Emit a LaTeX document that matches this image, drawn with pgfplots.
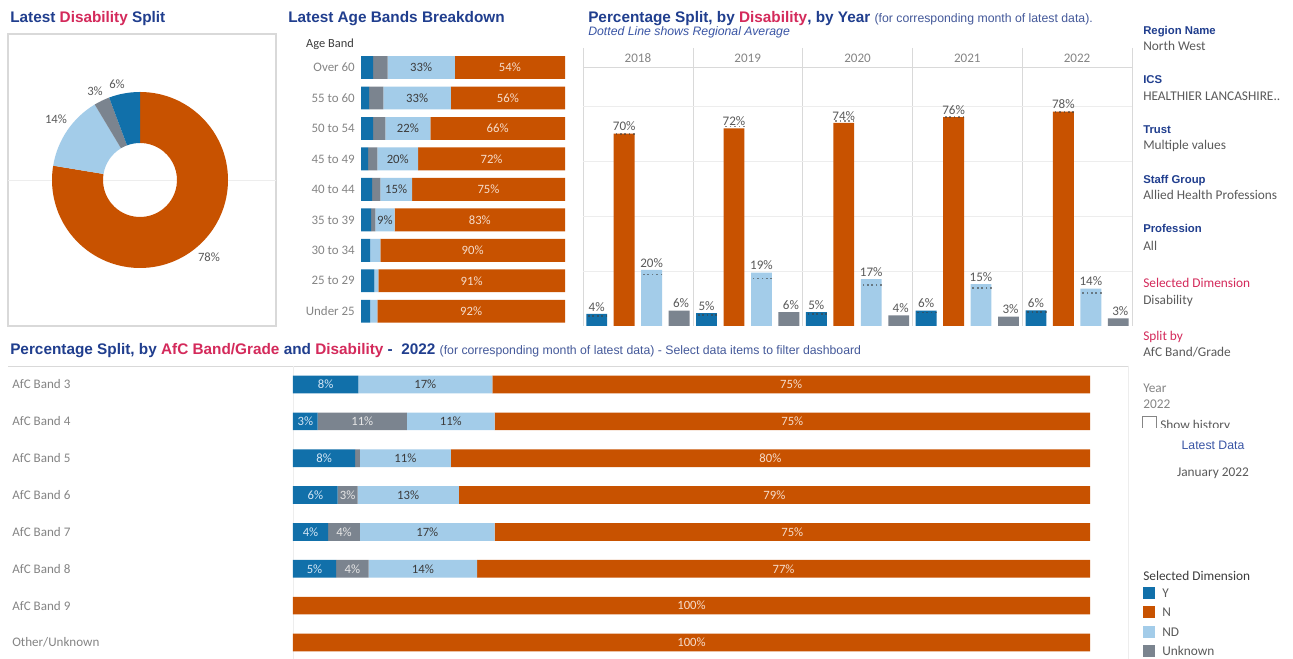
\documentclass[border=0pt]{standalone}
\usepackage{pgfplots}
\pgfplotsset{compat=1.18}
\usepackage{pgfplotstable}
\usepackage{fontspec}
\setmainfont{Carlito}
\newfontfamily\arial{Liberation Sans}
\newcommand\fs[1]{\fontsize{#1}{#1}\selectfont}
\definecolor{cY}{HTML}{1170AA}
\definecolor{cN}{HTML}{C85200}
\definecolor{cND}{HTML}{A3CCE9}
\definecolor{cU}{HTML}{7B848F}
\definecolor{tblue}{HTML}{203E8E}
\definecolor{tred}{HTML}{D42A5B}
\definecolor{sblue}{HTML}{3A55A5}
\definecolor{ptxt}{HTML}{44599A}
\definecolor{labgray}{HTML}{858585}
\definecolor{txtgray}{HTML}{5A5A5A}
\definecolor{darktxt}{HTML}{3C3C3C}
\definecolor{linegray}{HTML}{D9D9D9}
\definecolor{gridgray}{HTML}{EDEDED}
\definecolor{ntxt}{HTML}{F6DCCB}
\definecolor{ytxt}{HTML}{D4E6F5}
\definecolor{utxt}{HTML}{E6E6E6}
\pgfplotsset{/pgf/number format/assume math mode=true}

% ---------------- data ----------------
\pgfplotstableread{
row Y U ND N lND lN
0 6 7 33 54 33 54
1 4 7 33 56 33 56
2 6 6 22 66 22 66
3 3.5 4.5 20 72 20 72
4 5.5 4 15.5 75 15 75
5 5 2 9.5 83.5 9 83
6 4.5 0 5 90.5 0 90
7 6.5 0 2 91.5 0 91
8 4.5 0 3.5 92 0 92
}\agetab

\pgfplotstableread{
row Y U ND N lY lU lND lN
0 8.2 0 16.8 75 8 0 17 75
1 3.1 11.2 11 74.7 3 11 11 75
2 7.8 0.6 11.4 80.2 8 0 11 80
3 5.6 2.5 12.7 79.2 6 3 13 79
4 4.4 4 16.9 74.7 4 4 17 75
5 5.4 4.1 13.6 76.9 5 4 14 77
6 0 0 0 100 0 0 0 100
7 0 0 0 100 0 0 0 100
}\afctab

\pgfplotstableread{
x y lab reg
0.5 4.4 4 3.6
4.5 4.7 5 4.1
8.5 5.0 5 4.3
12.5 5.6 6 4.9
16.5 5.7 6 5.0
}\yrY
\pgfplotstableread{
x y lab reg
1.5 70.0 70 69.8
5.5 71.9 72 72.6
9.5 73.9 74 74.6
13.5 76.0 76 76.1
17.5 78.0 78 77.9
}\yrN
\pgfplotstableread{
x y lab reg
2.5 20.4 20 18.7
6.5 19.4 19 17.3
10.5 17.0 17 14.8
14.5 15.2 15 13.8
18.5 13.6 14 12.1
}\yrND
\pgfplotstableread{
x y lab reg
3.5 5.6 6 8.6
7.5 5.0 6 8.2
11.5 3.9 4 7.6
15.5 3.4 3 7.2
19.5 2.8 3 6.5
}\yrU

% donut slice: colour, from %, to %
\newcommand\slice[3]{%
  \fill[#1] (axis cs:0,0) ++({90-3.6*#2}:66pt)
    arc[start angle={90-3.6*#2}, end angle={90-3.6*#3}, radius=66pt]
    -- ++({270-3.6*#3}:38.25pt)
    arc[start angle={90-3.6*#3}, end angle={90-3.6*#2}, radius=27.75pt] -- cycle;}

\pgfplotsset{
  agegeom/.style={at={(270.75pt,455.05pt)}, anchor=north west, width=153pt, height=205.7pt,
    scale only axis, xmin=0, xmax=100, ymin=-0.5, ymax=8.5, y dir=reverse, clip=false},
  afcgeom/.style={at={(219.75pt,219.70pt)}, anchor=north west, width=597.75pt, height=221.16pt,
    scale only axis, xmin=0, xmax=100, ymin=-0.5, ymax=7.5, y dir=reverse, clip=false},
  pct/.style={nodes near coords={\pgfmathprintnumber[fixed,precision=0]{\pgfplotspointmeta}\%},
    point meta=explicit,
    every node near coord/.append style={anchor=center, font=\fs{9.5pt}, inner sep=0.5pt, text=#1}},
}

\begin{document}
\begin{tikzpicture}
\path[use as bounding box, fill=white] (0pt,0pt) rectangle (969.75pt,494.25pt);

\begin{scope}[x=0.75pt,y=-0.75pt,shift={(0pt,494.25pt)}]
  % panel frames and separators
  \draw[linegray, line width=0.8pt] (8,34) rectangle (276,326);
  \draw[gridgray] (8,180) -- (276,180);
  \foreach \i in {0,...,5} \draw[linegray] ({583+109.8*\i},48) -- ({583+109.8*\i},326);
  \draw[linegray] (583,67.5) -- (1132,67.5);
  \draw[linegray] (8,366) -- (1128,366);
  \draw[gridgray] (293,366) -- (293,659);
  \draw[gridgray] (1128,366) -- (1128,659);

  % titles
  \node[anchor=base west, inner sep=0pt, text=tblue, font=\arial\bfseries\fs{11.5pt}] at (10,22.5)
    {Latest \textcolor{tred}{Disability} Split};
  \node[anchor=base west, inner sep=0pt, text=tblue, font=\arial\bfseries\fs{11.5pt}] at (288,22.5)
    {Latest Age Bands Breakdown};
  \node[anchor=base west, inner sep=0pt, text=tblue, font=\arial\bfseries\fs{11.5pt}] at (588,22.5)
    {Percentage Split, by \textcolor{tred}{Disability}, by Year {\mdseries\fs{9.2pt}\color{ptxt}(for corresponding month of latest data).}};
  \node[anchor=base west, inner sep=0pt, text=sblue, font=\arial\itshape\fs{9.2pt}] at (588,36)
    {Dotted Line shows Regional Average};
  \node[anchor=base west, inner sep=0pt, text=tblue, font=\arial\bfseries\fs{11.5pt}] at (10,354.5)
    {Percentage Split, by \textcolor{tred}{AfC Band/Grade} and \textcolor{tred}{Disability} -\ \ 2022 {\mdseries\fs{9.2pt}\color{ptxt}(for corresponding month of latest data) - Select data items to filter dashboard}};

  % donut labels
  \node[font=\fs{9.5pt}, text=txtgray] at (209,257) {78\%};
  \node[font=\fs{9.5pt}, text=txtgray] at (56,119) {14\%};
  \node[font=\fs{9.5pt}, text=txtgray] at (95,91) {3\%};
  \node[font=\fs{9.5pt}, text=txtgray] at (117,84) {6\%};

  \node[anchor=base, inner sep=0pt, font=\fs{9.3pt}, text=darktxt] at (330,48) {Age Band};

  % right-hand filter panel
  \foreach \yy/\tt in {35/Region Name, 84/ICS, 134/Trust, 184/Staff Group, 233/Profession}
    \node[anchor=base west, inner sep=0pt, font=\arial\bfseries\fs{8.5pt}, text=tblue] at (1143,\yy) {\tt};
  \foreach \yy/\tt in {50.3/North West, 100.3/HEALTHIER LANCASHIRE.., 149.3/Multiple values,
      199.3/Allied Health Professions, 250.3/All, 304.3/Disability, 356.3/{AfC Band/Grade}}
    \node[anchor=base west, inner sep=0pt, font=\fs{10pt}, text=txtgray] at (1143,\yy) {\tt};
  \node[anchor=base west, inner sep=0pt, font=\fs{10pt}, text=tred] at (1143,287.3) {Selected Dimension};
  \node[anchor=base west, inner sep=0pt, font=\fs{10pt}, text=tred] at (1143,340.3) {Split by};
  \node[anchor=base west, inner sep=0pt, font=\fs{10pt}, text=labgray] at (1143,392.3) {Year};
  \node[anchor=base west, inner sep=0pt, font=\fs{10pt}, text=labgray] at (1143,408.3) {2022};
  \begin{scope}
    \clip (1135,410) rectangle (1293,427.5);
    \draw[labgray, line width=0.7pt] (1142,416) rectangle (1156,432);
    \node[anchor=base west, inner sep=0pt, font=\fs{10pt}, text=txtgray] at (1160,429.5) {Show history};
  \end{scope}
  \node[anchor=base, inner sep=0pt, font=\arial\fs{9.2pt}, text=sblue] at (1213,450) {Latest Data};
  \node[anchor=base, inner sep=0pt, font=\fs{10pt}, text=txtgray] at (1213,476.3) {January 2022};

  % legend
  \node[anchor=base west, inner sep=0pt, font=\fs{10pt}, text=darktxt] at (1143,581) {Selected Dimension};
  \foreach \yy/\cc/\tt in {593/cY/Y, 612/cN/N, 632/cND/ND, 651/cU/Unknown}{
    \fill[\cc] (1143,\yy-6) rectangle (1155,\yy+6);
    \node[anchor=base west, inner sep=0pt, font=\fs{10pt}, text=txtgray] at (1162,\yy+4.3) {\tt};
  }
\end{scope}

% ---------------- donut ----------------
\begin{axis}[at={(105pt,359.25pt)}, anchor=center, width=132pt, height=132pt, scale only axis,
  hide axis, xmin=-1, xmax=1, ymin=-1, ymax=1, clip=false]
  \slice{cN}{0}{77.6}
  \slice{cND}{77.6}{91.4}
  \slice{cU}{91.4}{94.3}
  \slice{cY}{94.3}{100}
\end{axis}

% ---------------- age bands ----------------
\begin{axis}[agegeom, xbar stacked, bar width=0.75,
  axis line style={draw=none}, major tick length=0pt, xtick=\empty,
  ytick={0,...,8},
  yticklabels={Over 60,55 to 60,50 to 54,45 to 49,40 to 44,35 to 39,30 to 34,25 to 29,Under 25},
  yticklabel style={anchor=east, inner sep=0pt, xshift=-4.5pt, font=\fs{9.7pt}, text=labgray}]
  \addplot[fill=cY, draw=none] table[x=Y, y=row] {\agetab};
  \addplot[fill=cU, draw=none] table[x=U, y=row] {\agetab};
  \addplot[fill=cND, draw=none] table[x=ND, y=row] {\agetab};
  \addplot[fill=cN, draw=none] table[x=N, y=row] {\agetab};
\end{axis}
\begin{axis}[agegeom, hide axis]
  \addplot[draw=none, pct=darktxt, skip coords between index={6}{9}]
    table[x expr=\thisrow{Y}+\thisrow{U}+0.5*\thisrow{ND}, y=row, meta=lND] {\agetab};
  \addplot[draw=none, pct=ntxt]
    table[x expr=100-0.5*\thisrow{N}, y=row, meta=lN] {\agetab};
\end{axis}

% ---------------- by year ----------------
\begin{axis}[at={(437.25pt,249.75pt)}, anchor=south west, width=411.75pt, height=194.25pt,
  scale only axis, xmin=0, xmax=20, ymin=0, ymax=94.2, clip=false,
  axis line style={draw=none}, major tick length=0pt,
  xtick={2,6,10,14,18}, xticklabels={2018,2019,2020,2021,2022}, xticklabel pos=upper,
  xticklabel style={anchor=base, inner sep=0pt, yshift=3pt, font=\fs{9.8pt}, text=labgray},
  ytick={20,40,60,80}, yticklabels={}, ymajorgrids, grid style={gridgray, line width=0.5pt},
  yrbar/.style={ybar, bar width=0.76, draw=none, fill=#1},
  yrlab/.style={nodes near coords={\pgfmathprintnumber[fixed,precision=0]{\pgfplotspointmeta}\%},
    point meta=explicit,
    every node near coord/.append style={anchor=south, font=\fs{9.8pt}, inner sep=1.8pt, text=txtgray}},
  reg/.style={only marks, mark=-, mark size=8pt,
    mark options={line width=1.3pt, dash pattern=on 1.3pt off 2pt, draw=black!75, opacity=0.6}}]
  \addplot[yrbar=cY, yrlab] table[x=x, y=y, meta=lab] {\yrY};
  \addplot[yrbar=cN, yrlab] table[x=x, y=y, meta=lab] {\yrN};
  \addplot[yrbar=cND, yrlab] table[x=x, y=y, meta=lab] {\yrND};
  \addplot[reg] table[x=x, y=reg] {\yrY};
  \addplot[reg] table[x=x, y=reg] {\yrN};
  \addplot[reg] table[x=x, y=reg] {\yrND};
  \addplot[reg] table[x=x, y=reg] {\yrU};
  \addplot[yrbar=cU, yrlab, every node near coord/.append style={fill=white, inner xsep=2.5pt, xshift=1.5pt}]
    table[x=x, y=y, meta=lab] {\yrU};
\end{axis}

% ---------------- AfC bands ----------------
\begin{axis}[afcgeom, xbar stacked, bar width=0.48,
  axis line style={draw=none}, major tick length=0pt, xtick=\empty,
  ytick={0,...,7},
  yticklabels={AfC Band 3,AfC Band 4,AfC Band 5,AfC Band 6,AfC Band 7,AfC Band 8,AfC Band 9,Other/Unknown},
  yticklabel style={anchor=west, inner sep=0pt, xshift=-210.75pt, font=\fs{9.8pt}, text=labgray}]
  \addplot[fill=cY, draw=none] table[x=Y, y=row] {\afctab};
  \addplot[fill=cU, draw=none] table[x=U, y=row] {\afctab};
  \addplot[fill=cND, draw=none] table[x=ND, y=row] {\afctab};
  \addplot[fill=cN, draw=none] table[x=N, y=row] {\afctab};
\end{axis}
\begin{axis}[afcgeom, hide axis]
  \addplot[draw=none, pct=ytxt, skip coords between index={6}{8}]
    table[x expr=0.5*\thisrow{Y}, y=row, meta=lY] {\afctab};
  \addplot[draw=none, pct=utxt, skip coords between index={0}{1},
      skip coords between index={2}{3}, skip coords between index={6}{8}]
    table[x expr=\thisrow{Y}+0.5*\thisrow{U}, y=row, meta=lU] {\afctab};
  \addplot[draw=none, pct=darktxt, skip coords between index={6}{8}]
    table[x expr=\thisrow{Y}+\thisrow{U}+0.5*\thisrow{ND}, y=row, meta=lND] {\afctab};
  \addplot[draw=none, pct=ntxt]
    table[x expr=100-0.5*\thisrow{N}, y=row, meta=lN] {\afctab};
\end{axis}
\end{tikzpicture}
\end{document}
